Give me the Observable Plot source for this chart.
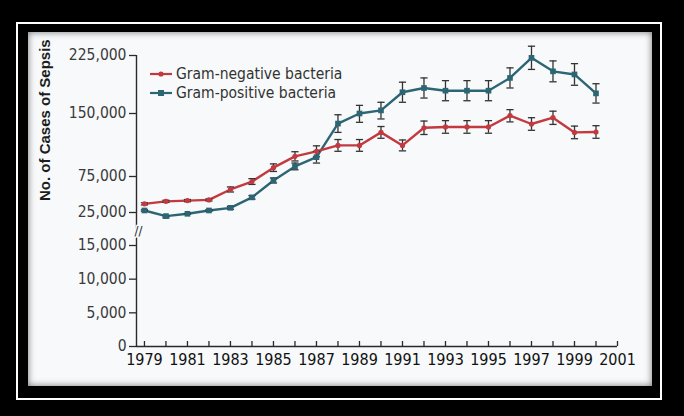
<!DOCTYPE html>
<html><head><meta charset="utf-8">
<script src="https://cdn.jsdelivr.net/npm/d3@7"></script>
<script src="https://cdn.jsdelivr.net/npm/@observablehq/plot@0.6"></script>
<style>
html,body{margin:0;padding:0;background:#000;width:684px;height:416px;overflow:hidden;}
#outer{position:absolute;left:16px;top:22px;width:642px;height:374px;border:2px solid #fff;}
#panel{position:absolute;left:28px;top:32px;width:624px;height:354px;background:#f7f9fa;box-shadow:inset 0 0 7px rgba(0,0,0,0.55);}
#chart{position:absolute;left:0;top:0;}
.lg{position:absolute;left:149px;font-family:"DejaVu Sans Condensed","DejaVu Sans",sans-serif;font-stretch:condensed;font-size:15.5px;color:#333;line-height:18px;white-space:nowrap;}
.lg svg{vertical-align:middle;margin-right:3px;position:relative;top:-1px;}
</style></head>
<body>
<div id="outer"></div>
<div id="panel"></div>
<div id="chart"></div>
<div class="lg" id="lg1"></div>
<div class="lg" id="lg2"></div>
<script>
const years = [1979,1980,1981,1982,1983,1984,1985,1986,1987,1988,1989,1990,1991,1992,1993,1994,1995,1996,1997,1998,1999,2000];
const gramNeg = [37000,40500,41500,42500,57000,68000,85500,99000,105000,112000,112000,127500,112000,133000,134000,134000,134000,147500,137500,145000,127500,128000];
const gramNegErr = [1500,1500,1500,1500,3500,4000,4500,5500,6500,7000,7000,7000,6500,8000,7500,7500,7500,7500,7500,8000,7500,7500];
const gramPos = [27800,20000,23200,27800,31500,46000,69500,87000,98000,138000,150000,154000,177500,183000,179500,179500,179500,196000,222000,204500,200500,176000];
const gramPosErr = [1000,300,300,1000,2000,2500,3500,4000,7000,10500,10500,10500,13000,13000,13000,13000,13000,13000,15000,13500,14000,12500];
const seriesNames = ["Gram-negative bacteria","Gram-positive bacteria"];
const xTicks = [1979,1980,1981,1982,1983,1984,1985,1986,1987,1988,1989,1990,1991,1992,1993,1994,1995,1996,1997,1998,1999,2000,2001];
const xLabels = [1979,1981,1983,1985,1987,1989,1991,1993,1995,1997,1999,2001];
const yTicks = [0,5000,10000,15000,25000,75000,150000,225000];
const yBreak = 17500;
const yTitle = "No. of Cases of Sepsis";

const RED = "#c23a40", TEAL = "#2c6675", INK = "#2a2a2a";
const FONT = "'DejaVu Sans Condensed','DejaVu Sans',sans-serif";

const neg = years.map((x,i)=>({x, y: gramNeg[i], lo: gramNeg[i]-gramNegErr[i], hi: gramNeg[i]+gramNegErr[i]}));
const pos = years.map((x,i)=>({x, y: gramPos[i], lo: gramPos[i]-gramPosErr[i], hi: gramPos[i]+gramPosErr[i]}));

const cap = {draw(ctx, size){ const w = Math.sqrt(size/Math.PI); ctx.moveTo(-w,0); ctx.lineTo(w,0); }};
const xDomain = [1978.63, 2001];

const chart = Plot.plot({
  width: 684, height: 416,
  marginLeft: 136, marginRight: 67, marginTop: 55, marginBottom: 70,
  style: {background: "transparent", fontFamily: FONT, fontSize: "15.5px", fontStretch: "condensed", color: INK},
  x: {type: "linear", domain: xDomain},
  y: {type: "linear", domain: [0,15000,20000,25000,75000,150000,225000], range: [346,245,215.6,212,176,113,55]},
  marks: [
    Plot.ruleY([0], {stroke: INK, strokeWidth: 1.4}),
    Plot.ruleX([xDomain[0]], {stroke: INK, strokeWidth: 1.4}),
    Plot.text([yBreak], {y: d=>d, frameAnchor: "left", text: ()=>"//", fontSize: 13, fill: INK, stroke: "#f7f9fa", strokeWidth: 3, paintOrder: "stroke", dx: -2}),
    Plot.axisY(yTicks, {anchor: "left", tickSize: 7, tickPadding: 3, tickFormat: d3.format(","), stroke: INK, fill: "#3a3a3a", strokeWidth: 1.3, label: null}),
    Plot.axisX(xTicks, {anchor: "bottom", tickSize: 5, dy: -5, fill: "none", stroke: INK, strokeWidth: 1.3, label: null}),
    Plot.axisX(xLabels, {anchor: "bottom", tickSize: 0, tickPadding: 7, tickFormat: d=>String(d), fill: "#111", fontSize: 16, label: null}),
    Plot.text([yTitle], {frameAnchor: "left", text: d=>d, rotate: -90, dx: -91, fontWeight: "bold", fontSize: 15, fill: "#1c1c1c", fontFamily: "'Liberation Sans',Arial,sans-serif"}),
    Plot.line(pos, {x: "x", y: "y", stroke: TEAL, strokeWidth: 2.4}),
    Plot.line(neg, {x: "x", y: "y", stroke: RED, strokeWidth: 2.4}),
    Plot.ruleX(pos, {x: "x", y1: "lo", y2: "hi", stroke: "#333", strokeWidth: 1.3}),
    Plot.ruleX(neg, {x: "x", y1: "lo", y2: "hi", stroke: "#333", strokeWidth: 1.3}),
    Plot.dot(pos, {x: "x", y: "lo", symbol: cap, r: 3.6, stroke: "#333", strokeWidth: 1.3, fill: "none"}),
    Plot.dot(pos, {x: "x", y: "hi", symbol: cap, r: 3.6, stroke: "#333", strokeWidth: 1.3, fill: "none"}),
    Plot.dot(neg, {x: "x", y: "lo", symbol: cap, r: 3.6, stroke: "#333", strokeWidth: 1.3, fill: "none"}),
    Plot.dot(neg, {x: "x", y: "hi", symbol: cap, r: 3.6, stroke: "#333", strokeWidth: 1.3, fill: "none"}),
    Plot.dot(pos, {x: "x", y: "y", symbol: "square", r: 3.2, fill: TEAL}),
    Plot.dot(neg, {x: "x", y: "y", r: 2.6, fill: RED})
  ]
});
document.getElementById("chart").append(chart);

function swatch(color, square){
  const m = square ? `<rect x="9" y="2" width="6" height="6" fill="${color}"/>` : `<circle cx="12" cy="5" r="2.6" fill="${color}"/>`;
  return `<svg width="24" height="10"><line x1="1" y1="5" x2="23" y2="5" stroke="${color}" stroke-width="2.2"/>${m}</svg>`;
}
const l1 = document.getElementById("lg1"), l2 = document.getElementById("lg2");
l1.style.top = "65px"; l2.style.top = "84px";
l1.innerHTML = swatch(RED,false) + seriesNames[0];
l2.innerHTML = swatch(TEAL,true) + seriesNames[1];
</script>
</body></html>
